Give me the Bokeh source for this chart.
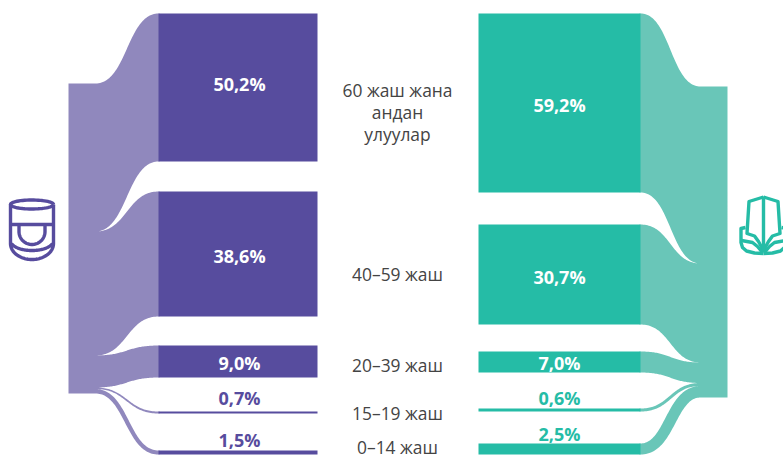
from bokeh.plotting import figure
from bokeh.embed import file_html
from bokeh.resources import INLINE
from bokeh.models import Range1d
from bokeh.core.properties import value
import numpy as np

# ---- data -------------------------------------------------------------
age_labels = ["60 жаш жана\nандан\nулуулар", "40–59 жаш", "20–39 жаш", "15–19 жаш", "0–14 жаш"]
left_values = [50.2, 38.6, 9.0, 0.7, 1.5]
right_values = [59.2, 30.7, 7.0, 0.6, 2.5]

# band thicknesses as drawn in the picture (plot units)
left_drawn_bar = [148, 125, 32, 2, 4]
right_drawn_bar = [179, 100, 21, 3, 11]
left_drawn_flow = [148, 124, 32, 1.5, 4.5]
right_drawn_flow = [177, 99, 20.5, 3, 11.5]
left_gaps = [30, 29, 34, 37]
right_gaps = [32, 27, 36, 32]

# ---- layout and style --------------------------------------------------
W, H = 783, 458
TOP = 13
L_STACK_TOP, R_STACK_TOP = 83, 86
L_X0, L_XJ, L_XB0, L_XB1 = 68, 95, 158, 317
R_XB0, R_XB1, R_XJ, R_X1 = 478, 640, 700, 727
DARK_P, LIGHT_P = "#574c9e", "#9088bd"
DARK_T, LIGHT_T = "#25bca6", "#69c6b8"
FONT = value("Open Sans")

p = figure(width=W, height=H, x_range=Range1d(0, W), y_range=Range1d(H, 0),
           output_backend="svg", toolbar_location=None, margin=(0, 0, 0, 0),
           min_border=0, outline_line_color=None)
p.axis.visible = False
p.grid.visible = False


def stack(start, sizes, gaps=None):
    tops, y = [], start
    for i, s in enumerate(sizes):
        tops.append(y)
        y += s + (gaps[i] if gaps and i < len(gaps) else 0)
    return tops


def sigmoid(x0, y0, x1, y1, n=60):
    t = np.linspace(0, 1, n)
    xm = (x0 + x1) / 2
    x = (1-t)**3*x0 + 3*(1-t)**2*t*xm + 3*(1-t)*t**2*xm + t**3*x1
    y = (1-t)**3*y0 + 3*(1-t)**2*t*y0 + 3*(1-t)*t**2*y1 + t**3*y1
    return x, y


def edges(jx, ft, fh, fx, bt, bh):
    """Upper edge from the stack to the bar, lower edge back again."""
    if max(fh, bh) >= 15:
        x1, y1 = sigmoid(jx, ft, fx, bt)
        x2, y2 = sigmoid(fx, bt + bh, jx, ft + fh)
        return list(x1), list(y1), list(x2), list(y2)
    # thin bands keep their thickness across the slope
    cx, cy = sigmoid(jx, ft + fh / 2, fx, bt + bh / 2)
    dx, dy = np.gradient(cx), np.gradient(cy)
    norm = np.hypot(dx, dy)
    nx, ny = -dy / norm * np.sign(fx - jx), dx / norm * np.sign(fx - jx)
    h = np.linspace(fh, bh, cx.size) / 2
    x1, y1 = cx - nx * h, cy - ny * h
    x2, y2 = cx + nx * h, cy + ny * h
    return list(x1), list(y1), list(x2[::-1]), list(y2[::-1])


def sankey_side(bars, flows, gaps, stack_top, bx0, bx1, jx, ex, dark, light):
    bar_tops = stack(TOP, bars, gaps)
    flow_tops = stack(stack_top, flows)
    total = sum(flows)
    fx = bx0 if jx < bx0 else bx1
    over = 1 if jx < bx0 else -1   # run the flow one unit under the bar
    px, py = [ex, jx], [stack_top, stack_top]
    for ft, fh, bt, bh in zip(flow_tops, flows, bar_tops, bars):
        x1, y1, x2, y2 = edges(jx, ft, fh, fx, bt, bh)
        px += x1 + [fx + over, fx + over] + x2
        py += y1 + [bt, bt + bh] + y2
    px += [ex]
    py += [stack_top + total]
    p.patch(px, py, color=light, line_color=None)
    p.quad(left=bx0, right=bx1, top=bar_tops, bottom=[t + b for t, b in zip(bar_tops, bars)],
           color=dark, line_color=None)


sankey_side(left_drawn_bar, left_drawn_flow, left_gaps, L_STACK_TOP,
            L_XB0, L_XB1, L_XJ, L_X0, DARK_P, LIGHT_P)
sankey_side(right_drawn_bar, right_drawn_flow, right_gaps, R_STACK_TOP,
            R_XB0, R_XB1, R_XJ, R_X1, DARK_T, LIGHT_T)


def fmt(v):
    return f"{v:.1f}".replace(".", ",") + "%"


left_label_y = [83, 255.5, 362.5, 397.5, 439.5]
right_label_y = [104.5, 276.5, 362.5, 397.5, 433.5]
label_colors_left = ["#ffffff", "#ffffff", "#ffffff", DARK_P, DARK_P]
label_colors_right = ["#ffffff", "#ffffff", "#ffffff", DARK_T, DARK_T]
p.text(x=[239]*5, y=left_label_y, text=[fmt(v) for v in left_values], text_color=label_colors_left,
       text_font=FONT, text_font_size="18px", text_font_style="bold",
       text_align="center", text_baseline="middle")
p.text(x=[559]*5, y=right_label_y, text=[fmt(v) for v in right_values], text_color=label_colors_right,
       text_font=FONT, text_font_size="18px", text_font_style="bold",
       text_align="center", text_baseline="middle")

center_lines = []
center_y = []
age_y = [[89.5, 111.5, 133.5], [273.5], [364], [412.5], [446]]
for lab, ys in zip(age_labels, age_y):
    for line, y in zip(lab.split("\n"), ys):
        center_lines.append(line)
        center_y.append(y)
p.text(x=[397]*len(center_y), y=center_y, text=center_lines, text_color="#444444",
       text_font=FONT, text_font_size="17.4px", text_align="center", text_baseline="middle")


# icons
def ell(cx, cy, rx, ry, a0=0, a1=2*np.pi, n=60):
    t = np.linspace(a0, a1, n)
    return cx + rx*np.cos(t), cy + ry*np.sin(t)


CX = 31.5
xs, ys = [], []
ex_, ey_ = ell(CX, 204, 21.5, 4.5)
xs.append(ex_); ys.append(ey_)
bx, by = ell(CX, 243, 21.5, 16, 0, np.pi)
xs.append(np.r_[CX+21.5, bx, CX-21.5]); ys.append(np.r_[204, by, 204])
xs.append(np.array([CX-21.5, CX+21.5])); ys.append(np.array([224, 224]))
ux, uy = ell(CX, 231, 13, 13, 0, np.pi)
xs.append(np.r_[CX+13, ux, CX-13]); ys.append(np.r_[224, uy, 224])
ax, ay = ell(CX, 240, 21.5, 10, 0.3, np.pi-0.3)
xs.append(ax); ys.append(ay)
p.multi_line(xs, ys, line_color=DARK_P, line_width=3.4)

MX = 763
half_paths = [
    ([0, 14.5, 16.5, 9, 5, 0], [196.5, 201, 233, 235.5, 241, 250]),
    ([18, 22.5, 22.5, 21, 17, 9, 0], [227, 228, 242, 247, 250.5, 252.5, 253]),
    ([22, 11, 6, 1], [240, 242, 246, 252]),
]
ix, iy = [], []
for dx, yy in half_paths:
    ix.append(MX - np.array(dx, float)); iy.append(np.array(yy, float))
    ix.append(MX + np.array(dx, float)); iy.append(np.array(yy, float))
ix.append(np.array([MX, MX], float)); iy.append(np.array([196, 252], float))
p.multi_line(ix, iy, line_color=DARK_T, line_width=3.4, line_join="round")

open("out.html", "w").write(file_html(p, INLINE))
